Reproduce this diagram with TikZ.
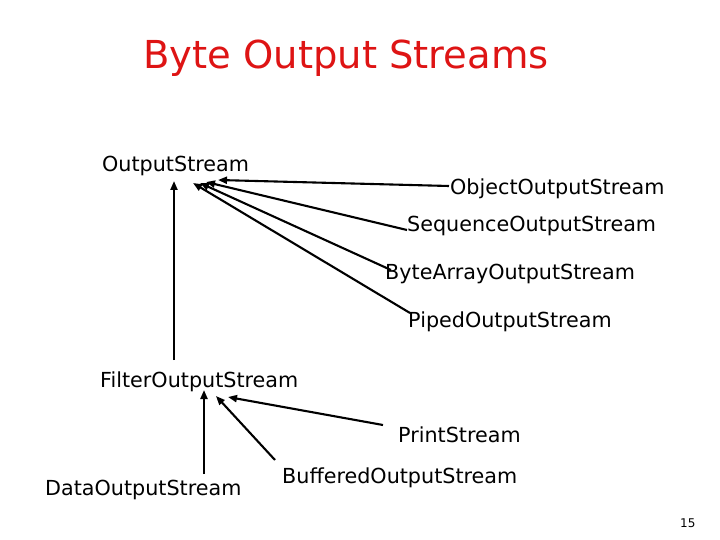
\documentclass[tikz,border=0pt]{standalone}
\usepackage{fontspec}
\setmainfont{DejaVu Sans}
\usetikzlibrary{arrows.meta,calc}
\definecolor{titlered}{RGB}{222,20,20}
\begin{document}
\begin{tikzpicture}[x=1pt,y=-1pt,
  lbl/.style={font=\fontsize{20.7}{24}\selectfont, inner sep=0pt, anchor=base west},
  arr/.style={-{Triangle[length=9pt,width=7pt]}, line width=2.1pt}]
\useasboundingbox[fill=white] (0,0) rectangle (720,540);
\node[font=\fontsize{38.5}{44}\selectfont, text=titlered, inner sep=0pt, anchor=base] (title) at (346,69) {Byte Output Streams};
\node[lbl] (os)  at (102,172) {OutputStream};
\node[lbl] (oos) at (450,195) {ObjectOutputStream};
\node[lbl] (sos) at (407,232) {SequenceOutputStream};
\node[lbl] (bas) at (385,279) {ByteArrayOutputStream};
\node[lbl] (pos) at (408,327) {PipedOutputStream};
\node[lbl] (fos) at (100,387) {FilterOutputStream};
\node[lbl] (ps)  at (398,442) {PrintStream};
\node[lbl] (bos) at (282,483) {BufferedOutputStream};
\node[lbl] (dos) at (45,495)  {DataOutputStream};
\node[font=\fontsize{12}{14}\selectfont, inner sep=0pt, anchor=base west] (pg) at (680,527) {15};
% arrows to OutputStream
\draw[arr] ($(oos.base west)+(-1,-9)$) -- ($(os.base west)+(116,8)$);
\draw[arr] ($(sos.base west)+(0,-2)$) -- ($(os.base west)+(104,10)$);
\draw[arr] ($(bas.base west)+(6,-9)$) -- ($(os.base west)+(98,11)$);
\draw[arr] ($(pos.base west)+(2,-14)$) -- ($(os.base west)+(91,11)$);
\draw[arr] ($(fos.base west)+(74,-27)$) -- ($(os.base west)+(72,9)$);
% arrows to FilterOutputStream
\draw[arr] ($(dos.base west)+(159,-21)$) -- ($(fos.base west)+(104,3)$);
\draw[arr] ($(bos.base west)+(-7,-23)$) -- ($(fos.base west)+(116,9)$);
\draw[arr] ($(ps.base west)+(-15,-17)$) -- ($(fos.base west)+(128,10)$);
\end{tikzpicture}
\end{document}
